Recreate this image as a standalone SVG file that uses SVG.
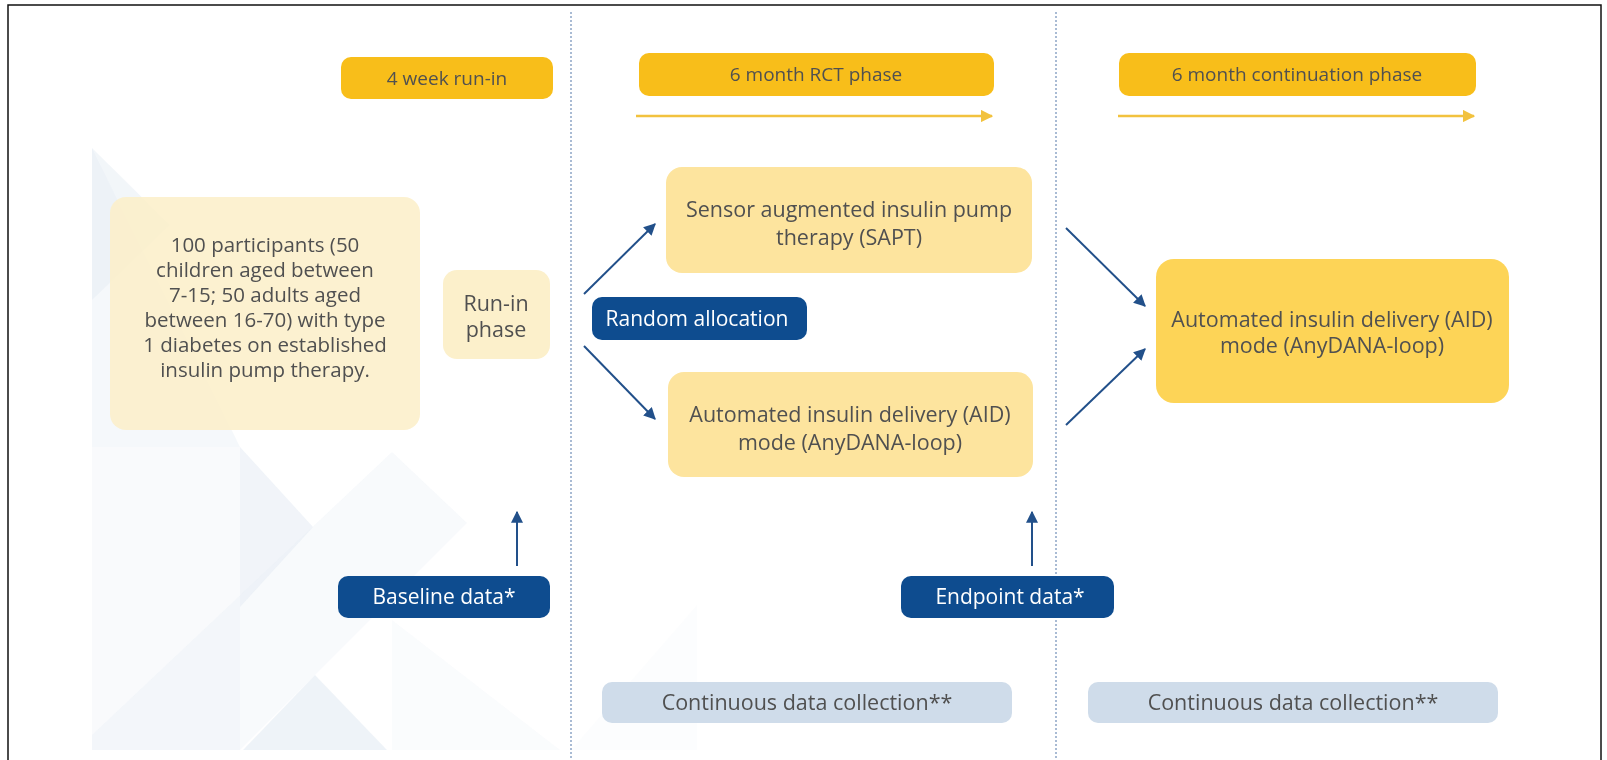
<svg xmlns="http://www.w3.org/2000/svg" width="1607" height="760" viewBox="0 0 1607 760">
<defs>
<style>
.t{font-family:"Open Sans","Liberation Sans",sans-serif;font-size:21.5px;fill:#505050;text-anchor:middle}
.w{font-family:"Open Sans","Liberation Sans",sans-serif;font-size:21px;fill:#ffffff;text-anchor:middle}
.h{font-size:19px}
.p{font-size:20.5px}
.hdr{fill:#F8BE1A}
.cream{fill:#FCF0CB}
.mid{fill:#FDE49E}
.big{fill:#FDD457}
.blue{fill:#0E4C8F}
.cont{fill:#CFDCEA}
.conn{stroke:#22508A;stroke-width:2;fill:none;marker-end:url(#ab)}
.yarr{stroke:#F2C23E;stroke-width:2.5;fill:none;marker-end:url(#ay)}
.div{stroke:#7C97BE;stroke-width:1.3;stroke-dasharray:2 2;fill:none}
.bg{fill:#DCE5F0}
</style>
<marker id="ab" viewBox="0 0 10 10" refX="9" refY="5" markerWidth="6" markerHeight="6" orient="auto" markerUnits="strokeWidth"><path d="M0,0 L10,5 L0,10 z" fill="#22508A"/></marker>
<marker id="ay" viewBox="0 0 10 10" refX="9" refY="5" markerWidth="5" markerHeight="5" orient="auto" markerUnits="strokeWidth"><path d="M0,0 L10,5 L0,10 z" fill="#F2C23E"/></marker>
</defs>
<rect x="0" y="0" width="1607" height="760" fill="#ffffff"/>
<g id="background" opacity="0.7">
<polygon class="bg" points="92,148 240,447 92,447" opacity="0.4"/>
<polygon class="bg" points="92,148 170,225 92,300" opacity="0.5"/>
<polygon class="bg" points="92,447 240,447 240,750 92,750" opacity="0.25"/>
<polygon class="bg" points="240,447 313,527 240,607" opacity="0.6"/>
<polygon class="bg" points="92,735 392,452 467,523 240,750 92,750" opacity="0.3"/>
<polygon class="bg" points="315,675 387,750 243,750" opacity="0.65"/>
<polygon class="bg" points="392,620 560,750 392,750" opacity="0.2"/>
<polygon class="bg" points="697,605 697,750 571,750" opacity="0.12"/>
</g>
<rect x="8" y="5" width="1593" height="770" fill="none" stroke="#111" stroke-width="1.5"/>
<g id="dividers">
<line class="div" x1="571" y1="12" x2="571" y2="760"/>
<line class="div" x1="1056" y1="12" x2="1056" y2="760"/>
</g>
<g id="connectors">
<line class="yarr" x1="636" y1="116" x2="992" y2="116"/>
<line class="yarr" x1="1118" y1="116" x2="1474" y2="116"/>
<line class="conn" x1="584" y1="294" x2="655" y2="224"/>
<line class="conn" x1="584" y1="346" x2="655" y2="419"/>
<line class="conn" x1="1066" y1="228" x2="1145" y2="306"/>
<line class="conn" x1="1066" y1="425" x2="1145" y2="349"/>
<line class="conn" x1="517" y1="566" x2="517" y2="512"/>
<line class="conn" x1="1032" y1="566" x2="1032" y2="512"/>
</g>
<g id="hdr-runin"><rect class="hdr" x="341" y="57" width="212" height="42" rx="10"/><text class="t h" x="447" y="85">4 week run-in</text></g>
<g id="hdr-rct"><rect class="hdr" x="639" y="53" width="355" height="43" rx="10"/><text class="t h" x="816" y="81">6 month RCT phase</text></g>
<g id="hdr-cont"><rect class="hdr" x="1119" y="53" width="357" height="43" rx="10"/><text class="t h" x="1297" y="81">6 month continuation phase</text></g>
<g id="participants"><rect x="110" y="197" width="310" height="233" rx="16" fill="#FCEFC8" opacity="0.85"/>
<text class="t p" x="265" y="252">100 participants (50</text>
<text class="t p" x="265" y="277">children aged between</text>
<text class="t p" x="265" y="302">7-15; 50 adults aged</text>
<text class="t p" x="265" y="327">between 16-70) with type</text>
<text class="t p" x="265" y="352">1 diabetes on established</text>
<text class="t p" x="265" y="377">insulin pump therapy.</text></g>
<g id="runin"><rect class="cream" x="443" y="270" width="107" height="89" rx="14"/>
<text class="t" x="496" y="311">Run-in</text><text class="t" x="496" y="337">phase</text></g>
<g id="sapt"><rect class="mid" x="666" y="167" width="366" height="106" rx="16"/>
<text class="t" x="849" y="217">Sensor augmented insulin pump</text><text class="t" x="849" y="245">therapy (SAPT)</text></g>
<g id="aid-rct"><rect class="mid" x="668" y="372" width="365" height="105" rx="16"/>
<text class="t" x="850" y="422">Automated insulin delivery (AID)</text><text class="t" x="850" y="450">mode (AnyDANA-loop)</text></g>
<g id="aid-cont"><rect class="big" x="1156" y="259" width="353" height="144" rx="18"/>
<text class="t" x="1332" y="327">Automated insulin delivery (AID)</text><text class="t" x="1332" y="353">mode (AnyDANA-loop)</text></g>
<g id="random"><rect class="blue" x="592" y="297" width="215" height="43" rx="10"/><text class="w" x="697" y="326">Random allocation</text></g>
<g id="baseline"><rect class="blue" x="338" y="576" width="212" height="42" rx="10"/><text class="w" x="444" y="604">Baseline data*</text></g>
<g id="endpoint"><rect class="blue" x="901" y="576" width="213" height="42" rx="10"/><text class="w" x="1010" y="604">Endpoint data*</text></g>
<g id="cdc1"><rect class="cont" x="602" y="682" width="410" height="41" rx="10"/><text class="t" x="807" y="710">Continuous data collection**</text></g>
<g id="cdc2"><rect class="cont" x="1088" y="682" width="410" height="41" rx="10"/><text class="t" x="1293" y="710">Continuous data collection**</text></g>
</svg>
